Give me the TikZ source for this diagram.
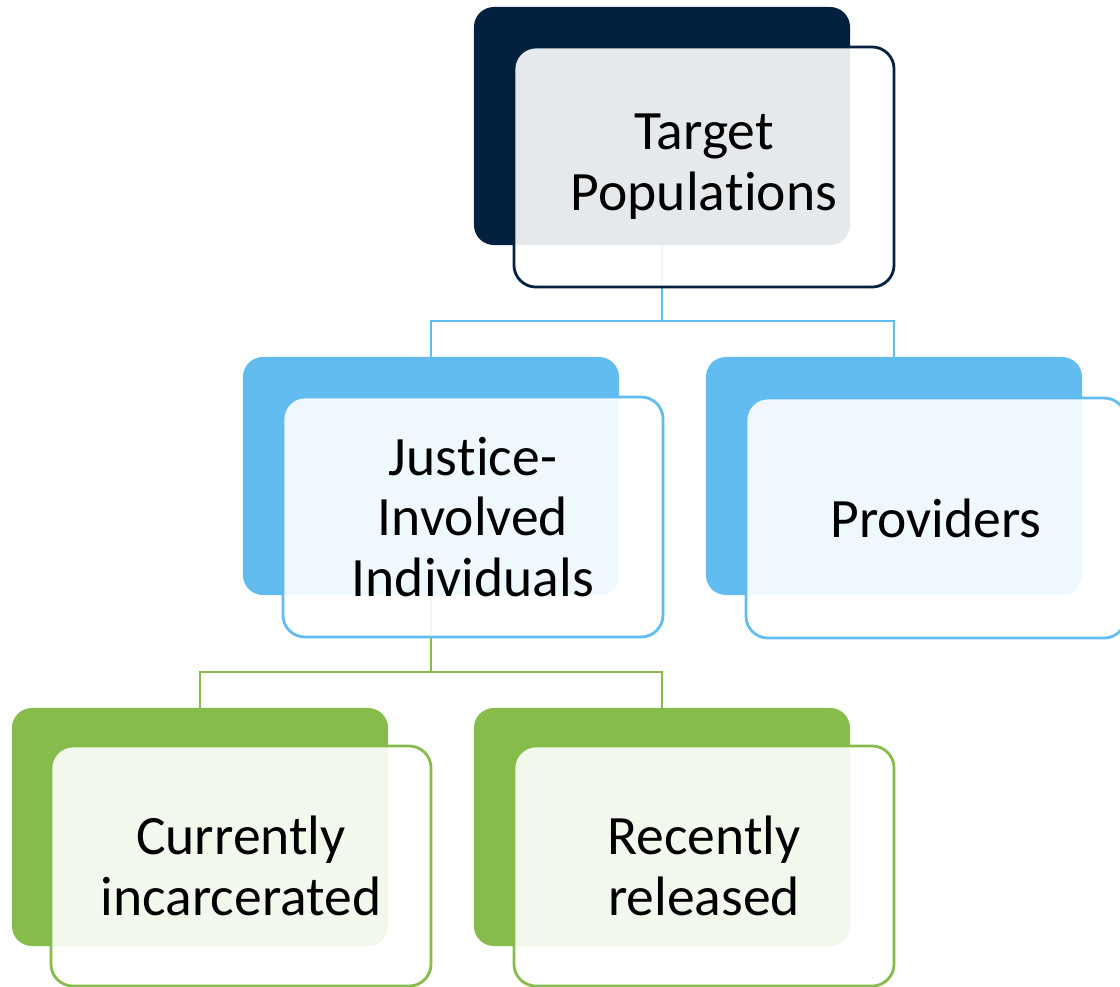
\documentclass[tikz,border=0pt]{standalone}
\usepackage{fontspec}
\setmainfont[Ligatures=NoCommon]{Carlito}
\definecolor{tpnavy}{RGB}{3,33,63}
\definecolor{jiblue}{RGB}{99,188,239}
\definecolor{crgreen}{RGB}{134,188,75}
\tikzset{
	backbox/.style={fill=#1, rounded corners=0.5cm, minimum width=9.4cm, minimum height=5.95cm, inner sep=0pt},
	frontbox/.style={draw=#1, line width=0.07cm, fill=white, fill opacity=0.9, text opacity=1, rounded corners=0.55cm, minimum width=9.5cm, minimum height=6cm, inner sep=0pt, align=center, font=\fontsize{39.5}{43.2}\selectfont},
	linkline/.style={draw=#1, line width=0.07cm},
}
\begin{document}
\begin{tikzpicture}[x=0.025cm, y=-0.025cm]
	\useasboundingbox (0,0) rectangle (1120,987);
	% back boxes
	\node[backbox=tpnavy] (tp) at (662,126) {};
	\node[backbox=jiblue] (jii) at (431,476) {};
	\node[backbox=jiblue] (prov) at (894,476) {};
	\node[backbox=crgreen] (curr) at (200,827) {};
	\node[backbox=crgreen] (rec) at (662,827) {};
	
	% connectors
	\coordinate (tpjoin) at (662,321);
	\draw[linkline=jiblue] (tp.south) -- (tpjoin) -| (jii.north);
	\draw[linkline=jiblue] (tpjoin) -| (prov.north);
	\coordinate (jiijoin) at (431,672);
	\draw[linkline=crgreen] (jii.south) -- (jiijoin) -| (curr.north);
	\draw[linkline=crgreen] (jiijoin) -| (rec.north);
	
	% front boxes
	\node[frontbox=tpnavy] (tpf) at (704,167) {Target\\Popula\kern0pt tions};
	\node[frontbox=jiblue] (jiif) at (473,517) {Jus\kern0pt tice-\\Involved\\Individuals};
	\node[frontbox=jiblue] (provf) at (936,518) {Providers};
	\node[frontbox=crgreen] (currf) at (241,866) {Currently\\incarcerated};
	\node[frontbox=crgreen] (recf) at (704,866) {Recently\\released};
\end{tikzpicture}
\end{document}
